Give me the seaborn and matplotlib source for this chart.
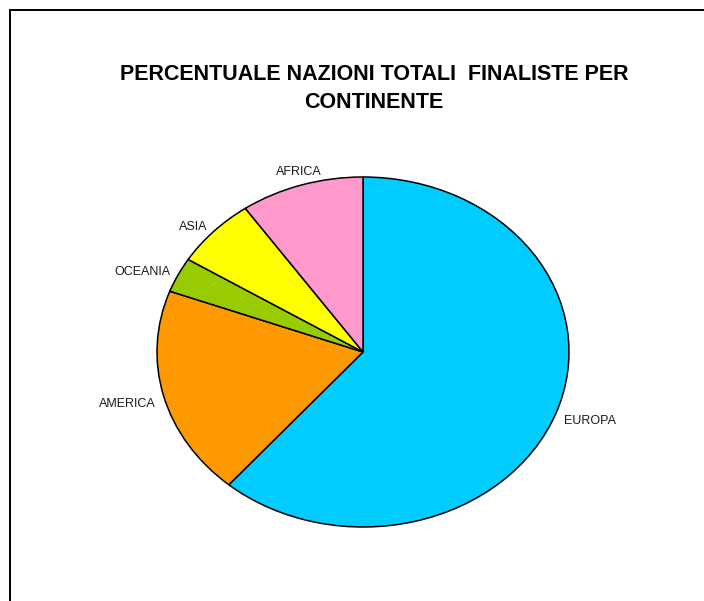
import numpy as np
import matplotlib
matplotlib.use('Agg')
import matplotlib.pyplot as plt
import seaborn as sns

sns.set_style('white')
plt.rcParams['font.family'] = ['Liberation Sans', 'DejaVu Sans']

continents = ['EUROPA', 'AMERICA', 'OCEANIA', 'ASIA', 'AFRICA']
nations = [19, 6, 1, 2, 3]
colors = ['#00CCFF', '#FF9900', '#99CC00', '#FFFF00', '#FF99CC']
title = 'PERCENTUALE NAZIONI TOTALI  FINALISTE PER\nCONTINENTE'

W, H = 704, 601
fig = plt.figure(figsize=(W / 100, H / 100), dpi=100)

# pie axes stretched so the pie comes out as an ellipse (like the excel 3d-ish look)
cx, cy, rx, ry = 363, 352, 206, 175
ax = fig.add_axes([(cx - rx) / W, (H - cy - ry) / H, 2 * rx / W, 2 * ry / H])
wedges, texts = ax.pie(nations, colors=colors, startangle=90, counterclock=False,
                       labels=continents, labeldistance=1.04,
                       wedgeprops=dict(edgecolor='black', linewidth=1.1),
                       textprops=dict(fontsize=9, color='#1a1a1a'))
ax.set_aspect('auto')
ax.set_xlim(-1, 1)
ax.set_ylim(-1, 1)
ax.axis('off')

# excel style label alignment
for w, t in zip(wedges, texts):
    mid = np.deg2rad((w.theta1 + w.theta2) / 2)
    c, s = np.cos(mid), np.sin(mid)
    if abs(c) < 0.5:
        t.set_horizontalalignment('center')
        t.set_verticalalignment('bottom' if s > 0 else 'top')
    else:
        t.set_horizontalalignment('right' if c < 0 else 'left')
        t.set_verticalalignment('center' if s > 0 else 'top')

fig.text(374 / W, 1 - 88.5 / H, title, ha='center', va='center', fontsize=15.5,
         fontweight='bold', color='black', linespacing=1.5)

# chart area frame (only top and left edges are visible)
fig.add_artist(plt.Line2D([10 / W, 10 / W], [0, 1 - 10 / H], transform=fig.transFigure,
                          color='black', linewidth=1.4))
fig.add_artist(plt.Line2D([10 / W, 1], [1 - 10 / H, 1 - 10 / H], transform=fig.transFigure,
                          color='black', linewidth=1.4))

fig.savefig('out.png', dpi=100)
